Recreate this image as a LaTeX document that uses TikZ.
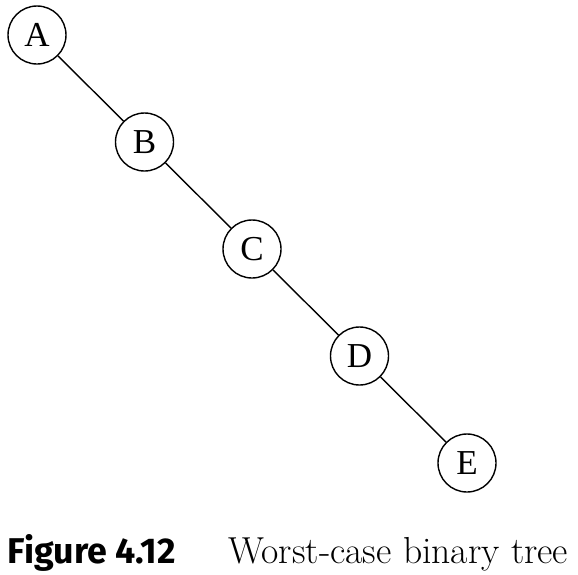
\documentclass[tikz,border=0pt]{standalone}
\usepackage{fontspec}
\newfontfamily\capsans{Fira Sans}
\newfontfamily\vertexfont{Liberation Serif}
\usetikzlibrary{positioning}
\begin{document}
\begin{tikzpicture}[x=1pt,y=1pt,line width=0.7pt,font=\fontsize{17}{20}\selectfont,
	vertex/.style={draw,circle,minimum size=29pt,inner sep=0pt,font=\vertexfont\fontsize{17.5}{20}\selectfont},
	node distance=53.5pt and 53.75pt,on grid]
	\useasboundingbox (0,0) rectangle (289,-287);
	%Vẽ cây:
	\node[vertex] (A) at (18.5,-17.5) {A};
	\node[vertex,below right=of A] (B) {B};
	\node[vertex,below right=of B] (C) {C};
	\node[vertex,below right=of C] (D) {D};
	\node[vertex,below right=of D] (E) {E};
	\draw (A)--(B)--(C)--(D)--(E);
	%Chú thích:
	\node[anchor=base west,inner sep=0pt,font=\capsans\bfseries\fontsize{17.9}{20}\selectfont] (fig) at (3.5,-281.5) {Figure 4.12};
	\node[anchor=base west,inner sep=0pt,font=\fontsize{18.8}{20}\selectfont] (cap) at (114,-281.5) {Worst-case binary tree};
\end{tikzpicture}
\end{document}
